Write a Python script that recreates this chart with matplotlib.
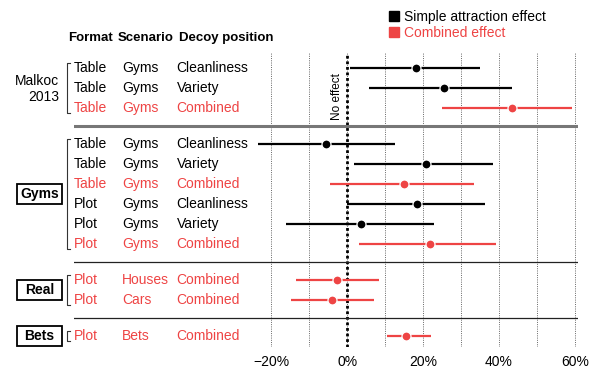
import numpy as np
import matplotlib
matplotlib.use('Agg')
import matplotlib.pyplot as plt
from matplotlib.patches import Rectangle
from matplotlib.lines import Line2D
from matplotlib.transforms import blended_transform_factory

plt.rcParams['font.family'] = ['Liberation Sans', 'DejaVu Sans']

RED = '#EE4444'

formats   = ['Table', 'Table', 'Table', 'Table', 'Table', 'Table',
             'Plot', 'Plot', 'Plot', 'Plot', 'Plot', 'Plot']
scenarios = ['Gyms'] * 9 + ['Houses', 'Cars', 'Bets']
decoys    = ['Cleanliness', 'Variety', 'Combined',
             'Cleanliness', 'Variety', 'Combined',
             'Cleanliness', 'Variety', 'Combined',
             'Combined', 'Combined', 'Combined']
group_of  = [0, 0, 0, 1, 1, 1, 1, 1, 1, 2, 2, 3]
groups    = ['Malkoc\n2013', 'Gyms', 'Real', 'Bets']

estimate = [18.1, 25.5, 43.5, -5.6, 20.7, 15.0, 18.5, 3.5, 21.8, -2.6, -4.0, 15.5]
lower    = [0.7, 5.8, 25.1, -23.5, 1.8, -4.5, 0.0, -16.2, 3.1, -13.5, -14.9, 10.4]
upper    = [35.0, 43.4, 59.2, 12.6, 38.4, 33.4, 36.3, 23.0, 39.2, 8.3, 7.1, 22.0]

major_ticks = [-20, 0, 20, 40, 60]
tick_labels = ['\u221220%', '0%', '20%', '40%', '60%']
minor_ticks = [-10, 10, 30, 50]

W, H = 602, 378
fig = plt.figure(figsize=(W / 100, H / 100), dpi=100)
ax = fig.add_axes([74 / W, 1 - 347 / H, (578 - 74) / W, (347 - 53) / H])

group_gap = 0.8
y = np.arange(len(estimate)) + group_gap * np.array(group_of)
combined = [d == 'Combined' for d in decoys]
colors = [RED if c else 'black' for c in combined]

# x grid
ax.set_xlim(-72.1, 60.87)
ax.set_ylim(13.935, -0.765)
ax.set_xticks(major_ticks)
ax.set_xticklabels(tick_labels)
ax.set_xticks(minor_ticks, minor=True)
ax.set_yticks([])
ax.tick_params(axis='x', which='both', length=0, pad=5.5, labelsize=10)
ax.grid(axis='x', which='both', color='#666666', linestyle=(0, (1, 1.3)), linewidth=0.7)
for s in ax.spines.values():
    s.set_visible(False)

ax.axvline(0, color='black', linewidth=2.0, linestyle=(0, (1, 1)), dash_capstyle='butt', zorder=4)
ax.text(-2.7, 2.6, 'No effect', rotation=90, ha='center', va='bottom', fontsize=8.5)

# separators between groups
for g in range(1, len(groups)):
    first = y[group_of.index(g)]
    prev = y[group_of.index(g) - 1]
    mid = (first + prev) / 2
    if g == 1:
        ax.axhline(mid, color='#777777', linewidth=2.2, zorder=5)
    else:
        ax.axhline(mid, color='#222222', linewidth=0.9, zorder=5)

# intervals and points
for i in range(len(estimate)):
    ax.plot([lower[i], upper[i]], [y[i], y[i]], color=colors[i], linewidth=1.6,
            solid_capstyle='butt', zorder=6)
    ax.plot(estimate[i], y[i], 'o', color=colors[i], markersize=6.5,
            markeredgecolor='white', markeredgewidth=0.9, zorder=7)

# left side table
tr = blended_transform_factory(fig.transFigure, ax.transData)
for i in range(len(estimate)):
    for x_px, txt in [(74, formats[i]), (122, scenarios[i]), (176.7, decoys[i])]:
        ax.text(x_px / W, y[i], txt, transform=tr, ha='left', va='center',
                fontsize=10, color=colors[i], clip_on=False)

for x_px, txt in [(68, 'Format'), (118, 'Scenario'), (179, 'Decoy position')]:
    ax.text(x_px / W, y[0] - 1.5, txt, transform=tr, ha='left', va='center',
            fontsize=9.5, fontweight='bold', clip_on=False)

for g, name in enumerate(groups):
    rows = [y[i] for i in range(len(y)) if group_of[i] == g]
    top, bot = min(rows) - 0.28, max(rows) + 0.22
    ax.plot([70 / W, 67 / W, 67 / W, 70 / W], [top, top, bot, bot], transform=tr,
            color='#333333', linewidth=0.8, clip_on=False)
    cy = (min(rows) + max(rows)) / 2
    if g == 0:
        ax.text(59 / W, cy + 0.05, name, transform=tr, ha='right', va='center',
                fontsize=10, linespacing=1.2, clip_on=False)
    else:
        ax.add_patch(Rectangle((17 / W, cy - 0.5), 45 / W, 1.0, transform=tr,
                               fill=False, edgecolor='black', linewidth=1.3, clip_on=False))
        ax.text(39.5 / W, cy, name, transform=tr, ha='center', va='center',
                fontsize=10, fontweight='bold', clip_on=False)

# legend
handles = [Line2D([], [], marker='s', linestyle='', markersize=7.2, color='black'),
           Line2D([], [], marker='s', linestyle='', markersize=7.2, color=RED)]
fig.legend(handles, ['Simple attraction effect', 'Combined effect'],
           loc='upper left', bbox_to_anchor=(389 / W, 1 - 9.5 / H), frameon=False,
           fontsize=10, labelcolor=['black', RED], handlelength=0.7,
           handletextpad=0.35, labelspacing=0.15, borderpad=0, borderaxespad=0)

fig.savefig('out.png', dpi=100)
